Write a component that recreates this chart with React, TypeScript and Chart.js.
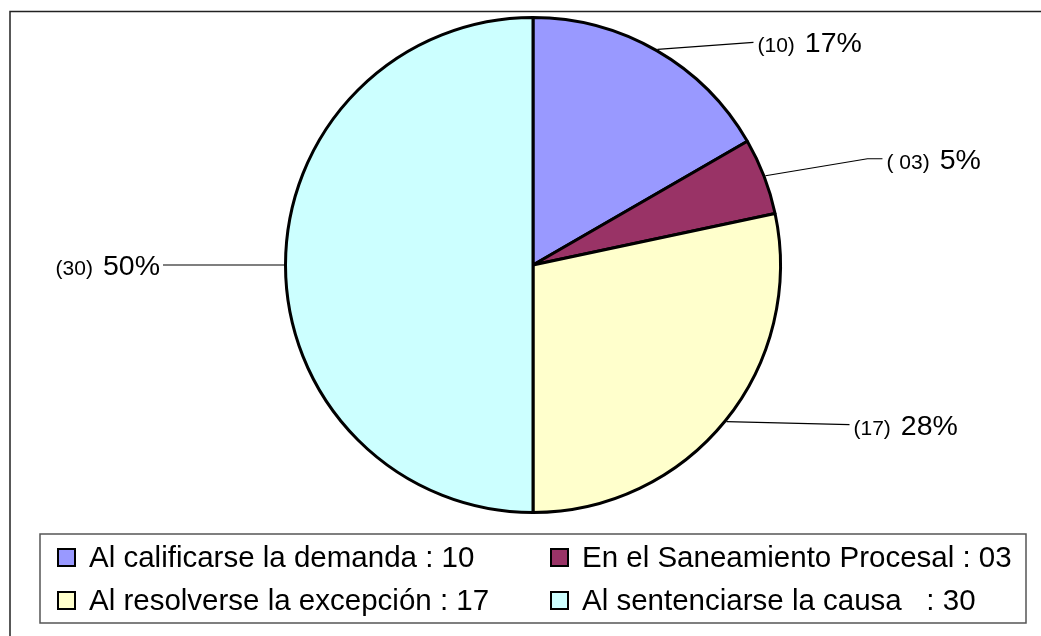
import React, { useEffect, useRef } from "react";
import { Chart, registerables } from "chart.js";

Chart.register(...registerables);

// ---- Data ----
const categories = [
  "Al calificarse la demanda",
  "En el Saneamiento Procesal",
  "Al resolverse la excepción",
  "Al sentenciarse la causa",
];
const values = [10, 3, 17, 30];
const countLabels = ["(10)", "( 03)", "(17)", "(30)"];
const legendLabels = [
  "Al calificarse la demanda : 10",
  "En el Saneamiento Procesal : 03",
  "Al resolverse la excepción : 17",
  "Al sentenciarse la causa   : 30",
];
const sliceColors = ["#9999FF", "#993366", "#FFFFCC", "#CCFFFF"];

// ---- Style: leader line offsets from slice edge (pixels) ----
const leaderStyle = [
  { dx: 96, dy: -7, tail: 0, side: 1 },
  { dx: 102, dy: -17, tail: 15, side: 1 },
  { dx: 123, dy: 3, tail: 0, side: 1 },
  { dx: -121, dy: 0, tail: 0, side: -1 },
];

const FONT = "'Liberation Sans', Arial, sans-serif";

const overlayPlugin = {
  id: "overlay",
  afterDraw(chart: any) {
    const ctx = chart.ctx as CanvasRenderingContext2D;
    const W = chart.width;
    const H = chart.height;
    ctx.save();

    // outer frame (top + left)
    ctx.strokeStyle = "#222";
    ctx.lineWidth = 1.5;
    ctx.beginPath();
    ctx.moveTo(10, H);
    ctx.lineTo(10, 11.5);
    ctx.lineTo(W, 11.5);
    ctx.stroke();

    // data labels with leader lines
    const meta = chart.getDatasetMeta(0);
    const total = values.reduce((a, b) => a + b, 0);
    meta.data.forEach((arc: any, i: number) => {
      const p = arc.getProps(["x", "y", "startAngle", "endAngle", "outerRadius"], true);
      const mid = (p.startAngle + p.endAngle) / 2;
      const r = p.outerRadius + 1.5;
      const sx = p.x + Math.cos(mid) * r;
      const sy = p.y + Math.sin(mid) * r;
      const st = leaderStyle[i];
      const bx = sx + st.dx;
      const by = sy + st.dy;
      const ex = bx + st.tail * st.side;
      const ey = by;
      ctx.strokeStyle = "#000";
      ctx.lineWidth = 1.2;
      ctx.beginPath();
      ctx.moveTo(sx, sy);
      ctx.lineTo(bx, by);
      if (st.tail) ctx.lineTo(ex, ey);
      ctx.stroke();

      const pct = Math.round((values[i] / total) * 100) + "%";
      const base = ey + 10;
      ctx.fillStyle = "#000";
      ctx.textBaseline = "alphabetic";
      ctx.textAlign = "left";
      const smallFont = `21px ${FONT}`;
      const bigFont = `28.5px ${FONT}`;
      ctx.font = smallFont;
      const wSmall = ctx.measureText(countLabels[i]).width;
      ctx.font = bigFont;
      const wBig = ctx.measureText(pct).width;
      const gap = 10;
      let x0: number;
      if (st.side > 0) {
        x0 = ex + 4;
      } else {
        x0 = ex - 3 - wBig - gap - wSmall;
      }
      ctx.font = smallFont;
      ctx.fillText(countLabels[i], x0, base);
      ctx.font = bigFont;
      ctx.fillText(pct, x0 + wSmall + gap, base);
    });

    // legend box
    ctx.strokeStyle = "#555";
    ctx.lineWidth = 1.5;
    ctx.strokeRect(40, 534, 986, 89);
    const cols = [57, 550];
    const rows = [567, 610];
    const colors = chart.data.datasets[0].backgroundColor as string[];
    legendLabels.forEach((lab, i) => {
      const cx = cols[i % 2];
      const by = rows[Math.floor(i / 2)];
      ctx.fillStyle = colors[i];
      ctx.fillRect(cx, by - 19, 19, 19);
      ctx.strokeStyle = "#000";
      ctx.lineWidth = 2;
      ctx.strokeRect(cx + 1, by - 18, 17, 17);
      ctx.fillStyle = "#000";
      ctx.font = `29.5px ${FONT}`;
      ctx.textAlign = "left";
      ctx.textBaseline = "alphabetic";
      ctx.fillText(lab, cx + 32, by);
    });
    ctx.restore();
  },
};

export default function App() {
  const ref = useRef<HTMLCanvasElement>(null);
  useEffect(() => {
    const canvas = ref.current!;
    const chart = new Chart(canvas, {
      type: "pie",
      data: {
        labels: categories,
        datasets: [
          {
            data: values,
            backgroundColor: sliceColors,
            borderColor: "#000",
            borderWidth: 3,
          },
        ],
      },
      options: {
        responsive: false,
        animation: false,
        devicePixelRatio: 1,
        layout: { padding: { left: 284, top: 16, right: 259, bottom: 122 } },
        plugins: { legend: { display: false }, tooltip: { enabled: false } },
      },
      plugins: [overlayPlugin],
    } as any);
    return () => chart.destroy();
  }, []);
  return (
    <div
      style={{
        position: "absolute",
        left: 0,
        top: 0,
        width: 1041,
        height: 636,
        background: "#fff",
        overflow: "hidden",
      }}
    >
      <canvas ref={ref} width={1041} height={636} style={{ display: "block" }} />
    </div>
  );
}
